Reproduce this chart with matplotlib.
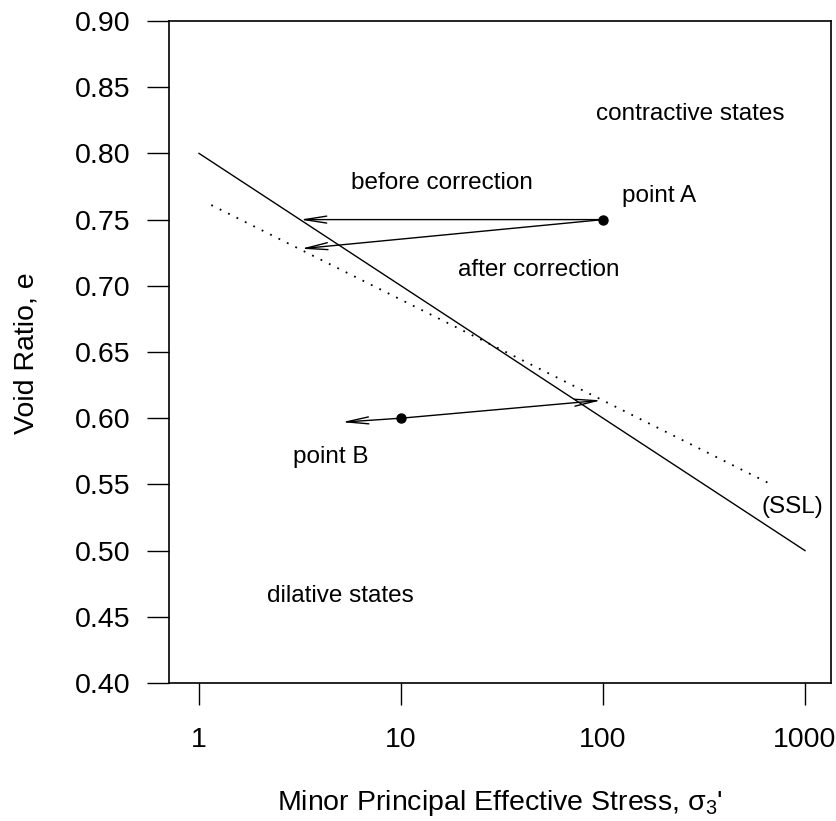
import matplotlib
matplotlib.use("Agg")
import matplotlib.pyplot as plt

plt.rcParams['font.family'] = ['Liberation Sans', 'DejaVu Sans']
plt.rcParams['mathtext.fontset'] = 'custom'
plt.rcParams['mathtext.rm'] = 'Liberation Sans'
plt.rcParams['mathtext.it'] = 'Liberation Sans'

# steady state line (solid) and the corrected line (dotted)
ssl_stress = [1, 1000]
ssl_void = [0.80, 0.50]
corr_stress = [1.15, 660]
corr_void = [0.761, 0.551]

# the two soil states
pt_stress = [100, 10]
pt_void = [0.75, 0.60]

# arrows: (start stress, start e) -> (end stress, end e)
arrow_from_stress = [100, 100, 10, 10]
arrow_from_void = [0.75, 0.75, 0.60, 0.60]
arrow_to_stress = [3.16, 3.2, 5.1, 98]
arrow_to_void = [0.75, 0.728, 0.597, 0.6135]

# text labels placed in data coordinates
label_text = ['contractive states', 'before correction', 'point A',
              'after correction', 'point B', '(SSL)', 'dilative states']
label_stress = [270, 16, 189, 48, 4.5, 863, 5]
label_void = [0.830, 0.778, 0.768, 0.712, 0.571, 0.533, 0.466]

x_ticks = [1, 10, 100, 1000]
x_ticklabels = ['1', '10', '100', '1000']
y_ticks = [0.40, 0.45, 0.50, 0.55, 0.60, 0.65, 0.70, 0.75, 0.80, 0.85, 0.90]

fig = plt.figure(figsize=(8.36, 8.21), dpi=100)
ax = fig.add_axes([169 / 836, 1 - 683 / 821, 662 / 836, 662 / 821])

ax.plot(ssl_stress, ssl_void, color='black', lw=1.0)
ax.plot(corr_stress, corr_void, color='black', lw=1.3, dashes=(1, 4.2))
ax.plot(pt_stress, pt_void, 'o', color='black', markersize=6.5)

for i in range(len(arrow_to_stress)):
    ax.annotate('', xy=(arrow_to_stress[i], arrow_to_void[i]),
                xytext=(arrow_from_stress[i], arrow_from_void[i]),
                arrowprops=dict(arrowstyle='->,head_length=1.6,head_width=0.25',
                                mutation_scale=10, color='black', lw=1.0,
                                shrinkA=0, shrinkB=0))

for i in range(len(label_text)):
    ax.text(label_stress[i], label_void[i], label_text[i], fontsize=17.5,
            ha='center', va='center')

ax.set_xscale('log')
ax.set_xlim(0.71, 1345)
ax.set_ylim(0.40, 0.90)
ax.set_xticks(x_ticks)
ax.set_xticklabels(x_ticklabels)
ax.minorticks_off()
ax.set_yticks(y_ticks)
ax.set_yticklabels(['%.2f' % v for v in y_ticks])
ax.tick_params(axis='both', direction='out', length=16, width=1.0, labelsize=20.5)
ax.tick_params(axis='x', pad=16)
ax.tick_params(axis='y', pad=12)
for sp in ax.spines.values():
    sp.set_linewidth(1.2)

fig.text(500 / 836, 1 - 810 / 821, r"Minor Principal Effective Stress, $\mathregular{\sigma_3}$'",
         fontsize=20.5, ha='center', va='baseline')
fig.text(27 / 836, 1 - 353 / 821, 'Void Ratio, e', fontsize=20.5,
         ha='center', va='center', rotation=90)

fig.savefig('out.png', dpi=100)
